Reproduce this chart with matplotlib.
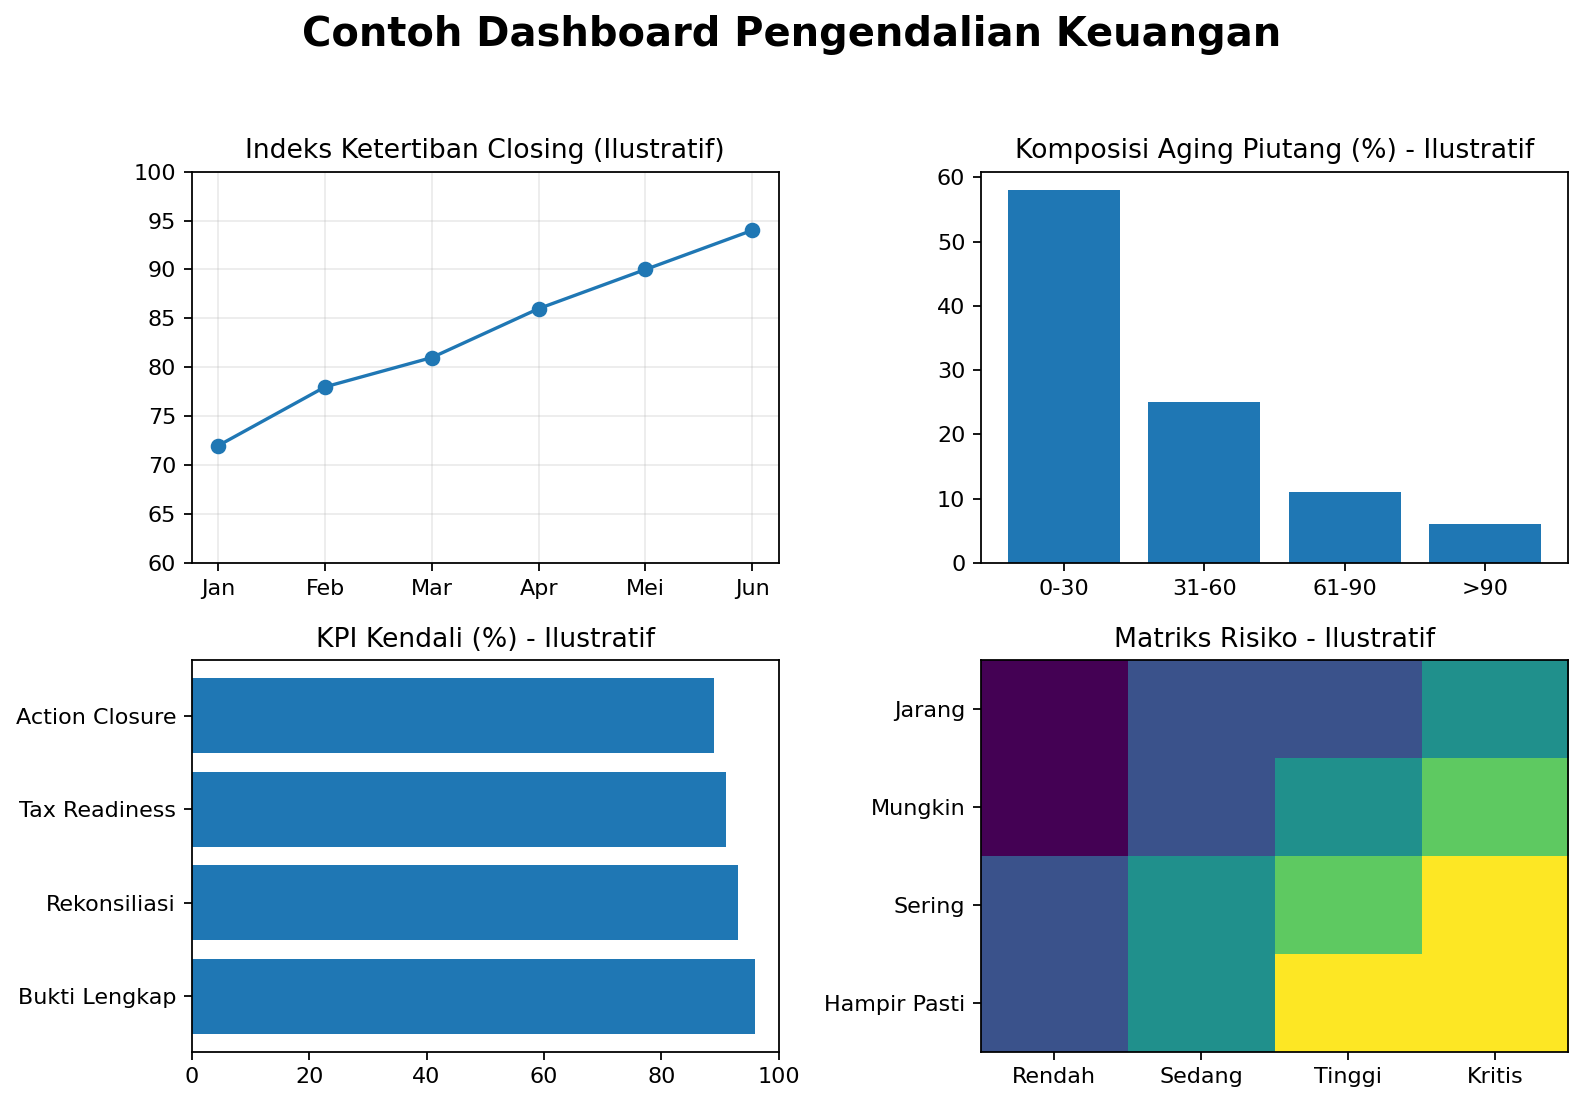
import matplotlib
matplotlib.use("Agg")
import matplotlib.pyplot as plt
import numpy as np

# data
bulan = ["Jan", "Feb", "Mar", "Apr", "Mei", "Jun"]
indeks_closing = [72, 78, 81, 86, 90, 94]

aging_label = ["0-30", "31-60", "61-90", ">90"]
aging_pct = [58, 25, 11, 6]

kpi_label = ["Bukti Lengkap", "Rekonsiliasi", "Tax Readiness", "Action Closure"]
kpi_nilai = [96, 93, 91, 89]

dampak = ["Rendah", "Sedang", "Tinggi", "Kritis"]
kemungkinan = ["Jarang", "Mungkin", "Sering", "Hampir Pasti"]
skor_risiko = [
    [1, 2, 2, 3],
    [1, 2, 3, 4],
    [2, 3, 4, 5],
    [2, 3, 5, 5],
]

fig, axs = plt.subplots(2, 2, figsize=(1584 / 160, 1104 / 160), dpi=160)
fig.subplots_adjust(left=0.121, right=0.990, top=0.8445, bottom=0.0474,
                    wspace=0.344, hspace=0.249)
fig.suptitle("Contoh Dashboard Pengendalian Keuangan", fontsize=18, fontweight="bold", y=0.986)

ax = axs[0, 0]
ax.plot(bulan, indeks_closing, marker="o")
ax.set_ylim(60, 100)
ax.grid(True, alpha=0.25)
ax.set_title("Indeks Ketertiban Closing (Ilustratif)")

ax = axs[0, 1]
ax.bar(aging_label, aging_pct)
ax.set_title("Komposisi Aging Piutang (%) - Ilustratif")

ax = axs[1, 0]
ax.barh(kpi_label, kpi_nilai)
ax.set_xlim(0, 100)
ax.set_title("KPI Kendali (%) - Ilustratif")

ax = axs[1, 1]
ax.imshow(np.array(skor_risiko), cmap="viridis", aspect="auto")
ax.set_xticks(range(len(dampak)))
ax.set_xticklabels(dampak)
ax.set_yticks(range(len(kemungkinan)))
ax.set_yticklabels(kemungkinan)
ax.set_title("Matriks Risiko - Ilustratif")

plt.savefig("out.png", dpi=160)
